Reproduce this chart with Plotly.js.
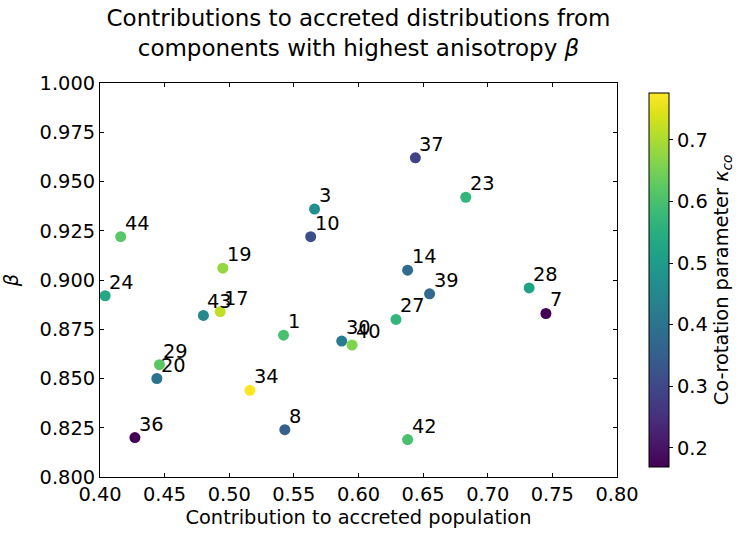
<!DOCTYPE html>
<html>
<head>
<meta charset="utf-8">
<script src="https://cdn.plot.ly/plotly-3.0.1.min.js"></script>
<style>
  html, body { margin: 0; padding: 0; background: #ffffff; }
  #chart { width: 748px; height: 538px; }
</style>
</head>
<body>
<div id="chart"></div>
<script>
// component ids, accreted contribution, anisotropy beta, co-rotation kappa
const componentIds = ['44', '24', '19', '3', '10', '43', '17', '1', '30', '40', '29', '20',
                      '34', '8', '36', '37', '23', '14', '39', '27', '28', '7', '42'];
const contribution = [0.416, 0.404, 0.495, 0.566, 0.563, 0.480, 0.493, 0.542, 0.587, 0.595,
                      0.446, 0.444, 0.516, 0.543, 0.427, 0.644, 0.683, 0.638, 0.655, 0.629,
                      0.732, 0.745, 0.638];
const beta = [0.922, 0.892, 0.906, 0.936, 0.922, 0.882, 0.884, 0.872, 0.869, 0.867,
              0.857, 0.850, 0.844, 0.824, 0.820, 0.962, 0.942, 0.905, 0.893, 0.880,
              0.896, 0.883, 0.819];
const kappaCo = [0.62, 0.53, 0.68, 0.47, 0.31, 0.45, 0.72, 0.60, 0.42, 0.66,
                 0.62, 0.40, 0.776, 0.35, 0.17, 0.29, 0.57, 0.38, 0.38, 0.57,
                 0.52, 0.172, 0.60];

const xTicks = [0.40, 0.45, 0.50, 0.55, 0.60, 0.65, 0.70, 0.75, 0.80];
const yTicks = [0.800, 0.825, 0.850, 0.875, 0.900, 0.925, 0.950, 0.975, 1.000];
const cbTicks = [0.2, 0.3, 0.4, 0.5, 0.6, 0.7];

const FONT = "'DejaVu Sans', sans-serif";

const trace = {
  x: contribution,
  y: beta,
  type: 'scatter',
  mode: 'markers',
  marker: {
    size: 11,
    color: kappaCo,
    colorscale: 'Viridis',
    cmin: 0.169,
    cmax: 0.776,
    line: { width: 0 },
    colorbar: {
      x: 649 / 748, xanchor: 'left', xref: 'container', xpad: 0,
      y: 0.5, yanchor: 'middle',
      thickness: 20, thicknessmode: 'pixels',
      len: 394, lenmode: 'pixels',
      outlinecolor: '#000', outlinewidth: 1,
      tickvals: cbTicks,
      ticktext: cbTicks.map(v => v.toFixed(1)),
      ticks: 'outside', ticklen: 4, tickcolor: '#000',
      tickfont: { family: FONT, size: 19.4, color: '#000' },
      title: {
        text: 'Co-rotation parameter <i>κ</i><sub><i>co</i></sub>',
        side: 'right',
        font: { family: FONT, size: 19.4, color: '#000' },
      },
    },
  },
  hoverinfo: 'skip',
};

const annotations = componentIds.map((id, i) => ({
  x: contribution[i], y: beta[i],
  text: id,
  showarrow: false,
  xanchor: 'left', yanchor: 'bottom',
  xshift: 2, yshift: 0,
  font: { family: FONT, size: 19.4, color: '#000' },
}));

const axisCommon = {
  showgrid: false,
  zeroline: false,
  showline: true,
  linecolor: '#000',
  linewidth: 1,
  mirror: 'allticks',
  ticks: 'inside',
  ticklen: 4,
  tickcolor: '#000',
  tickfont: { family: FONT, size: 19.4, color: '#000' },
};

const layout = {
  width: 748, height: 538,
  paper_bgcolor: '#fff', plot_bgcolor: '#fff',
  margin: { l: 100, r: 131, t: 83, b: 61 },
  showlegend: false,
  title: {
    text: 'Contributions to accreted distributions from<br>components with highest anisotropy <i>β</i>',
    font: { family: FONT, size: 23, color: '#000' },
    x: 0.5, xref: 'paper', xanchor: 'center',
    y: 0.952, yref: 'container', yanchor: 'top',
  },
  xaxis: Object.assign({}, axisCommon, {
    range: [0.40, 0.80],
    tickvals: xTicks,
    ticktext: xTicks.map(v => v.toFixed(2)),
    title: { text: 'Contribution to accreted population', standoff: 4,
             font: { family: FONT, size: 19.4, color: '#000' } },
  }),
  yaxis: Object.assign({}, axisCommon, {
    range: [0.80, 1.00],
    tickvals: yTicks,
    ticktext: yTicks.map(v => v.toFixed(3)),
    title: { text: '<i>β</i>', standoff: 16,
             font: { family: FONT, size: 19.4, color: '#000' } },
  }),
  annotations: annotations,
};

Plotly.newPlot('chart', [trace], layout, { displayModeBar: false, staticPlot: true });
</script>
</body>
</html>
